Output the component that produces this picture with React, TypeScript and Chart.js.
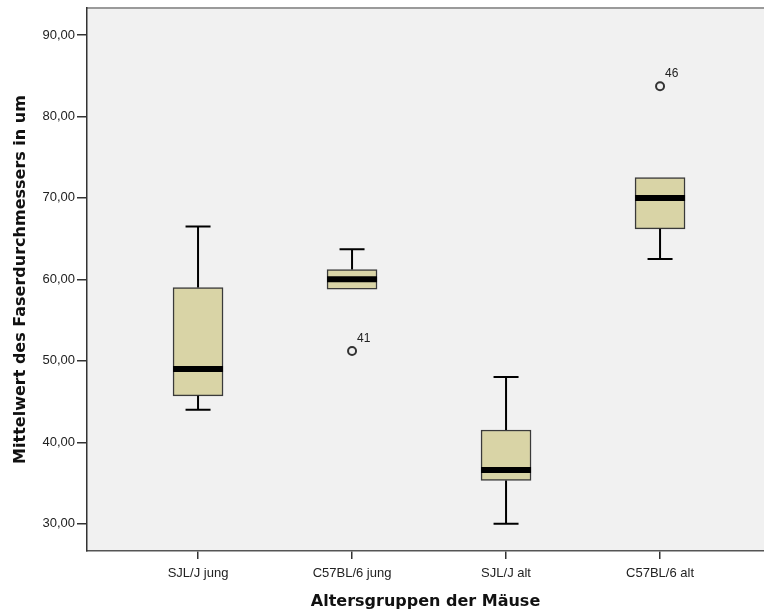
import React, { useEffect, useRef } from 'react';
import { Chart, registerables } from 'chart.js';

Chart.register(...registerables);

const categories = ['SJL/J jung', 'C57BL/6 jung', 'SJL/J alt', 'C57BL/6 alt'];
const whiskerLow = [44.0, 58.8, 30.0, 62.5];
const q1 = [45.7, 58.8, 35.3, 66.2];
const median = [49.0, 60.0, 36.6, 70.0];
const q3 = [59.0, 61.2, 41.5, 72.5];
const whiskerHigh = [66.5, 63.7, 48.0, 72.5];
const outlierCategory = [2, 4];
const outlierValues = [51.2, 83.7];
const outlierLabels = ['41', '46'];
const yTicks = [30, 40, 50, 60, 70, 80, 90];

const TICK_FONT = { family: '"Liberation Sans", Arial, sans-serif', size: 13 };
const TITLE_FONT = { family: '"DejaVu Sans", sans-serif', size: 16, weight: 'bold' as const };

const boxPlugin = {
  id: 'boxExtras',
  beforeDraw(chart: any) {
    const { ctx, chartArea: a } = chart;
    ctx.save();
    ctx.fillStyle = '#f1f1f1';
    ctx.fillRect(a.left, a.top, a.right - a.left, a.bottom - a.top);
    ctx.strokeStyle = '#9a9a9a';
    ctx.lineWidth = 2;
    ctx.beginPath();
    ctx.moveTo(a.left, a.top);
    ctx.lineTo(a.right, a.top);
    ctx.stroke();
    ctx.restore();
  },
  afterDatasetsDraw(chart: any) {
    const { ctx } = chart;
    const ys = chart.scales.y;
    const xs = chart.scales.x;
    const meta = chart.getDatasetMeta(0);
    ctx.save();
    ctx.strokeStyle = '#000';
    ctx.lineCap = 'butt';
    categories.forEach((_, i) => {
      const el = meta.data[i];
      const cx = el.x;
      const w = el.width;
      const half = w / 2;
      const cap = w / 4;
      const yq1 = ys.getPixelForValue(q1[i]);
      const yq3 = ys.getPixelForValue(q3[i]);
      const ylo = ys.getPixelForValue(whiskerLow[i]);
      const yhi = ys.getPixelForValue(whiskerHigh[i]);
      ctx.lineWidth = 2;
      if (whiskerHigh[i] > q3[i]) {
        ctx.beginPath();
        ctx.moveTo(cx, yq3);
        ctx.lineTo(cx, yhi);
        ctx.moveTo(cx - cap, yhi);
        ctx.lineTo(cx + cap, yhi);
        ctx.stroke();
      }
      if (whiskerLow[i] < q1[i]) {
        ctx.beginPath();
        ctx.moveTo(cx, yq1);
        ctx.lineTo(cx, ylo);
        ctx.moveTo(cx - cap, ylo);
        ctx.lineTo(cx + cap, ylo);
        ctx.stroke();
      }
      const ym = ys.getPixelForValue(median[i]);
      ctx.lineWidth = 6;
      ctx.beginPath();
      ctx.moveTo(cx - half, ym);
      ctx.lineTo(cx + half, ym);
      ctx.stroke();
    });
    ctx.fillStyle = '#222';
    ctx.font = '12px "Liberation Sans", Arial, sans-serif';
    ctx.textAlign = 'left';
    ctx.textBaseline = 'alphabetic';
    outlierCategory.forEach((c, i) => {
      const px = xs.getPixelForValue(c);
      const py = ys.getPixelForValue(outlierValues[i]);
      ctx.fillText(outlierLabels[i], px + 5, py - 9);
    });
    ctx.restore();
  },
};

export default function App() {
  const ref = useRef<HTMLCanvasElement | null>(null);
  useEffect(() => {
    document.body.style.margin = '0';
    const canvas = ref.current;
    if (!canvas) return;
    const chart = new Chart(canvas, {
      type: 'bar',
      data: {
        datasets: [
          {
            type: 'bar',
            data: categories.map((_, i) => ({ x: i + 1, y: [q1[i], q3[i]] })) as any,
            backgroundColor: '#d9d4a6',
            borderColor: '#3a3a3a',
            borderWidth: 1.5,
            borderSkipped: false,
            barThickness: 50,
          } as any,
          {
            type: 'scatter',
            data: outlierCategory.map((c, i) => ({ x: c, y: outlierValues[i] })),
            pointRadius: 4,
            pointBorderWidth: 2,
            pointBorderColor: '#333',
            pointBackgroundColor: 'rgba(0,0,0,0)',
            showLine: false,
          } as any,
        ],
      },
      options: {
        responsive: false,
        animation: false,
        devicePixelRatio: 1,
        layout: { autoPadding: false, padding: { top: 8, left: 0, right: 0, bottom: 0 } },
        plugins: { legend: { display: false }, tooltip: { enabled: false } },
        scales: {
          x: {
            type: 'linear',
            min: 0.279,
            max: 4.675,
            offset: false,
            afterBuildTicks: (s: any) => {
              s.ticks = categories.map((_, i) => ({ value: i + 1 }));
            },
            afterFit: (s: any) => {
              s.height = 60;
              s.paddingLeft = 0;
              s.paddingRight = 0;
            },
            ticks: {
              callback: (v: any) => categories[Math.round(Number(v)) - 1] ?? '',
              autoSkip: false,
              maxRotation: 0,
              padding: 7,
              color: '#222',
              font: TICK_FONT,
            },
            grid: {
              offset: false,
              drawOnChartArea: false,
              drawTicks: true,
              tickLength: 8,
              color: '#333',
              lineWidth: 1.5,
            },
            border: { display: true, color: '#555', width: 1.5 },
            title: {
              display: true,
              text: 'Altersgruppen der Mäuse',
              font: TITLE_FONT,
              color: '#111',
              padding: { top: 0, bottom: 0 },
            },
          },
          y: {
            type: 'linear',
            min: 26.65,
            max: 93.31,
            afterBuildTicks: (s: any) => {
              s.ticks = yTicks.map((v) => ({ value: v }));
            },
            afterFit: (s: any) => {
              s.width = 87;
              s.paddingTop = 0;
              s.paddingBottom = 0;
            },
            ticks: {
              callback: (v: any) => Number(v).toFixed(2).replace('.', ','),
              padding: 2,
              color: '#222',
              font: TICK_FONT,
            },
            grid: {
              drawOnChartArea: false,
              drawTicks: true,
              tickLength: 10,
              color: '#333',
              lineWidth: 1.5,
            },
            border: { display: true, color: '#333', width: 1.5 },
            title: {
              display: true,
              text: 'Mittelwert des Faserdurchmessers in um',
              font: TITLE_FONT,
              color: '#111',
              padding: { top: 11, bottom: 0 },
            },
          },
        },
      } as any,
      plugins: [boxPlugin],
    });
    return () => chart.destroy();
  }, []);
  return <canvas ref={ref} width={764} height={611} style={{ display: 'block' }} />;
}
